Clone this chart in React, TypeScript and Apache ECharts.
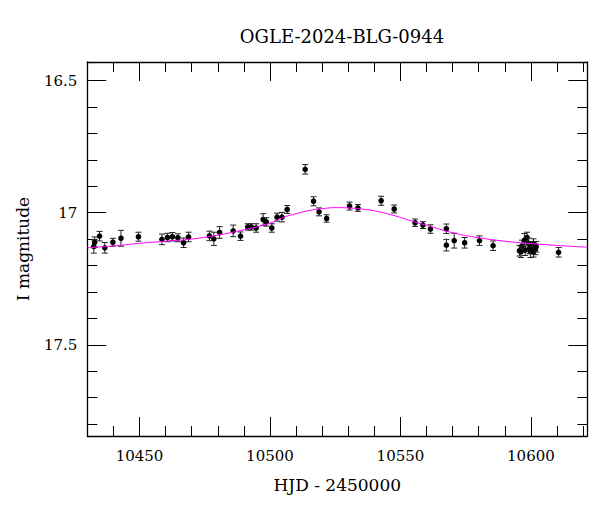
import React, { useEffect, useRef } from "react";
import * as echarts from "echarts";

const TITLE = "OGLE-2024-BLG-0944";
const X_NAME = "HJD - 2450000";
const Y_NAME = "I magnitude";

const X_MIN = 10430;
const X_MAX = 10621.6;
const Y_MIN = 16.43;
const Y_MAX = 17.845;

const X_MAJOR = [10450, 10500, 10550, 10600];
const X_MINOR = [10430, 10440, 10460, 10470, 10480, 10490, 10510, 10520, 10530, 10540, 10560, 10570, 10580, 10590, 10610, 10620];
const Y_MAJOR = [16.5, 17, 17.5];
const Y_MINOR = [16.6, 16.7, 16.8, 16.9, 17.1, 17.2, 17.3, 17.4, 17.6, 17.7, 17.8];

// observations: HJD-2450000
const obsHjd = [
  10432.5, 10432.8, 10434.7, 10436.7, 10439.8, 10442.9, 10449.6, 10458.6, 10460.7, 10462.6,
  10464.7, 10466.9, 10468.8, 10476.8, 10478.5, 10480.7, 10485.9, 10488.7, 10491.5, 10492.8,
  10494.7, 10497.4, 10498.6, 10500.7, 10502.7, 10504.6, 10506.6, 10513.5, 10516.7, 10518.8,
  10521.7, 10530.5, 10533.7, 10542.6, 10547.6, 10555.6, 10558.6, 10561.5, 10567.6, 10567.6,
  10570.6, 10574.6, 10580.3, 10585.5, 10595.6, 10596.6, 10597.5, 10598.5, 10599.1, 10599.8,
  10600.4, 10601.0, 10601.7, 10597.8, 10596.2, 10599.5, 10601.0, 10602.0, 10610.6,
];
// I magnitude
const obsMag = [
  17.128, 17.112, 17.089, 17.133, 17.112, 17.097, 17.091, 17.101, 17.094, 17.091,
  17.095, 17.114, 17.092, 17.088, 17.099, 17.075, 17.069, 17.089, 17.054, 17.054,
  17.058, 17.026, 17.035, 17.058, 17.017, 17.017, 16.988, 16.836, 16.957, 16.997,
  17.022, 16.975, 16.982, 16.955, 16.986, 17.038, 17.047, 17.062, 17.061, 17.123,
  17.106, 17.114, 17.106, 17.125, 17.144, 17.126, 17.104, 17.094, 17.116, 17.148,
  17.129, 17.119, 17.139, 17.142, 17.148, 17.135, 17.148, 17.129, 17.150,
];
// magnitude errors
const obsErr = [
  0.025, 0.02, 0.018, 0.02, 0.015, 0.03, 0.017, 0.02, 0.016, 0.016,
  0.015, 0.018, 0.018, 0.018, 0.025, 0.022, 0.022, 0.016, 0.012, 0.012,
  0.016, 0.022, 0.016, 0.016, 0.015, 0.018, 0.015, 0.018, 0.017, 0.015,
  0.014, 0.015, 0.013, 0.017, 0.015, 0.014, 0.013, 0.016, 0.018, 0.022,
  0.028, 0.02, 0.018, 0.018, 0.02, 0.022, 0.025, 0.02, 0.02, 0.022,
  0.02, 0.02, 0.02, 0.02, 0.022, 0.02, 0.02, 0.02, 0.018,
];

// model curve
const modelHjd = [
  10430, 10440, 10450, 10460, 10470, 10480, 10490, 10500, 10505, 10510,
  10515, 10520, 10525, 10530, 10535, 10540, 10545, 10550, 10555, 10560,
  10570, 10580, 10590, 10600, 10610, 10621.6,
];
const modelMag = [
  17.133, 17.126, 17.116, 17.108, 17.100, 17.085, 17.065, 17.040, 17.018, 17.004,
  16.992, 16.985, 16.981, 16.982, 16.986, 16.993, 17.004, 17.018, 17.034, 17.048,
  17.076, 17.095, 17.108, 17.117, 17.124, 17.131,
];

const FONT = "DejaVu Serif";

export default function App() {
  const ref = useRef<HTMLDivElement>(null);
  useEffect(() => {
    if (!ref.current) return;
    const chart = echarts.init(ref.current, null, { renderer: "svg" });
    const obs = obsHjd.map((x, i) => [x, obsMag[i], obsErr[i]]);
    const model = modelHjd.map((x, i) => [x, modelMag[i]]);

    const lineStyle = { color: "#000", width: 1.3 };
    const mkX = (pos: string, major: boolean, labels: boolean, line: boolean) => ({
      type: "value",
      position: pos,
      min: X_MIN,
      max: X_MAX,
      scale: true,
      splitLine: { show: false },
      axisLine: { show: line, lineStyle },
      axisTick: {
        show: true,
        inside: true,
        length: major ? 19 : 10,
        customValues: major ? X_MAJOR : X_MINOR,
        lineStyle: { color: "#000", width: 1 },
      },
      axisLabel: labels
        ? {
            show: true,
            customValues: X_MAJOR,
            margin: 12,
            color: "#000",
            fontFamily: FONT,
            fontSize: 15,
            formatter: (v: number) => String(v),
          }
        : { show: false },
      ...(labels
        ? {
            name: X_NAME,
            nameLocation: "middle",
            nameGap: 40,
            nameTextStyle: { color: "#000", fontFamily: FONT, fontSize: 17 },
          }
        : {}),
    });
    const mkY = (pos: string, major: boolean, labels: boolean, line: boolean) => ({
      type: "value",
      position: pos,
      inverse: true,
      min: Y_MIN,
      max: Y_MAX,
      scale: true,
      splitLine: { show: false },
      axisLine: { show: line, lineStyle },
      axisTick: {
        show: true,
        inside: true,
        length: major ? 19 : 10,
        customValues: major ? Y_MAJOR : Y_MINOR,
        lineStyle: { color: "#000", width: 1 },
      },
      axisLabel: labels
        ? {
            show: true,
            customValues: Y_MAJOR,
            margin: 10,
            color: "#000",
            fontFamily: FONT,
            fontSize: 15,
            formatter: (v: number) => String(v),
          }
        : { show: false },
      ...(labels
        ? {
            name: Y_NAME,
            nameLocation: "middle",
            nameGap: 56,
            nameTextStyle: { color: "#000", fontFamily: FONT, fontSize: 17 },
          }
        : {}),
    });

    chart.setOption({
      animation: false,
      backgroundColor: "#fff",
      title: {
        text: TITLE,
        left: 337,
        top: 22,
        textAlign: "center",
        textStyle: { color: "#000", fontFamily: FONT, fontSize: 18, fontWeight: "normal" },
      },
      grid: { left: 87.3, right: 12.7, top: 62, bottom: 76, containLabel: false, outerBoundsMode: "none" },
      xAxis: [
        mkX("bottom", true, true, true),
        mkX("bottom", false, false, false),
        mkX("top", true, false, true),
        mkX("top", false, false, false),
      ],
      yAxis: [
        mkY("left", true, true, true),
        mkY("left", false, false, false),
        mkY("right", true, false, true),
        mkY("right", false, false, false),
      ],
      series: [
        {
          type: "custom",
          xAxisIndex: 0,
          yAxisIndex: 0,
          data: obs,
          encode: { x: 0, y: 1 },
          renderItem: (params: any, api: any) => {
            const x = api.value(0);
            const y = api.value(1);
            const e = api.value(2);
            const p = api.coord([x, y]);
            const t = api.coord([x, y - e]);
            const b = api.coord([x, y + e]);
            const hw = 3;
            const st = { stroke: "#222", lineWidth: 1 };
            return {
              type: "group",
              children: [
                { type: "line", shape: { x1: p[0], y1: t[1], x2: p[0], y2: b[1] }, style: st },
                { type: "line", shape: { x1: p[0] - hw, y1: t[1], x2: p[0] + hw, y2: t[1] }, style: st },
                { type: "line", shape: { x1: p[0] - hw, y1: b[1], x2: p[0] + hw, y2: b[1] }, style: st },
                { type: "circle", shape: { cx: p[0], cy: p[1], r: 2.8 }, style: { fill: "#000" } },
              ],
            };
          },
        },
        {
          type: "line",
          xAxisIndex: 0,
          yAxisIndex: 0,
          data: model,
          smooth: 0.4,
          showSymbol: false,
          symbol: "none",
          lineStyle: { color: "#ff00ff", width: 1 },
          clip: true,
          z: 3,
        },
      ],
    });
    return () => chart.dispose();
  }, []);
  return (
    <div
      ref={ref}
      style={{ position: "fixed", left: 0, top: 0, width: 600, height: 512, background: "#fff" }}
    />
  );
}
